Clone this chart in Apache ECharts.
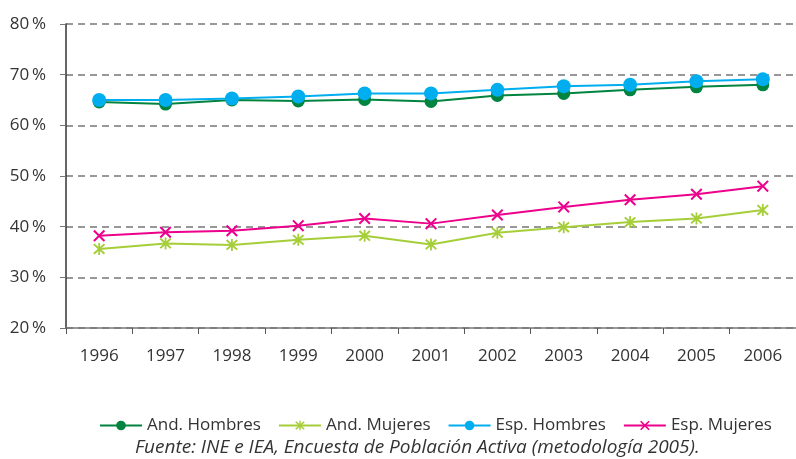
<!DOCTYPE html>
<html>
<head>
<meta charset="utf-8">
<script src="https://cdn.jsdelivr.net/npm/echarts@6/dist/echarts.min.js"></script>
<style>
  html, body { margin: 0; padding: 0; background: #fff; }
  #chart { width: 796px; height: 459px; }
</style>
</head>
<body>
<div id="chart"></div>
<script>
var years = ['1996', '1997', '1998', '1999', '2000', '2001', '2002', '2003', '2004', '2005', '2006'];
var andHombres = [64.6, 64.2, 65.0, 64.8, 65.1, 64.7, 65.9, 66.3, 67.0, 67.6, 68.0];
var andMujeres = [35.6, 36.7, 36.4, 37.4, 38.2, 36.5, 38.8, 39.9, 40.9, 41.6, 43.3];
var espHombres = [65.0, 65.0, 65.3, 65.7, 66.3, 66.3, 67.0, 67.7, 68.0, 68.7, 69.1];
var espMujeres = [38.2, 38.9, 39.2, 40.2, 41.6, 40.6, 42.3, 43.9, 45.3, 46.4, 48.0];
var yTicks = [20, 30, 40, 50, 60, 70, 80];

var fontName = '"Open Sans", "DejaVu Sans", sans-serif';
// filled shapes for the cross markers
var crossPath = 'path://M1.2,0 L5,3.8 L8.8,0 L10,1.2 L6.2,5 L10,8.8 L8.8,10 L5,6.2 L1.2,10 L0,8.8 L3.8,5 L0,1.2 Z';
var starPath = crossPath + ' M4.25,-0.5 L5.75,-0.5 L5.75,10.5 L4.25,10.5 Z';

var myChart = echarts.init(document.getElementById('chart'));

var option = {
  animation: false,
  grid: { left: 66, right: -5, top: 24, bottom: 131 },
  legend: {
    top: 412,
    left: 94,
    itemWidth: 42,
    itemHeight: 12,
    itemGap: 17,
    textStyle: { fontFamily: fontName, fontSize: 17, color: '#333' },
    data: ['And. Hombres', 'And. Mujeres', 'Esp. Hombres', 'Esp. Mujeres']
  },
  graphic: [{
    type: 'text',
    left: 135,
    top: 438,
    style: {
      text: 'Fuente: INE e IEA, Encuesta de Población Activa (metodología 2005).',
      font: 'italic 19px ' + fontName,
      fill: '#333'
    }
  }],
  xAxis: {
    type: 'category',
    data: years,
    boundaryGap: true,
    axisLine: { lineStyle: { color: '#777', width: 1.5 } },
    axisTick: { show: true, length: 6, lineStyle: { color: '#555' } },
    axisLabel: { margin: 20, fontFamily: fontName, fontSize: 17, color: '#333' },
    splitLine: { show: false }
  },
  yAxis: {
    type: 'value',
    min: yTicks[0],
    max: yTicks[yTicks.length - 1],
    interval: 10,
    axisLine: { show: true, lineStyle: { color: '#333', width: 1.5 } },
    axisTick: { show: true, length: 6, lineStyle: { color: '#777' } },
    axisLabel: {
      margin: 20,
      fontFamily: fontName,
      fontSize: 17,
      color: '#333',
      formatter: function (v) { return v + '\u2009%'; }
    },
    splitLine: { show: true, lineStyle: { color: '#777', type: [7, 5], width: 1.5 } }
  },
  series: [
    {
      name: 'And. Hombres',
      type: 'line',
      data: andHombres,
      symbol: 'circle',
      symbolSize: 13,
      color: '#00843f',
      lineStyle: { width: 2 },
      z: 2
    },
    {
      name: 'And. Mujeres',
      type: 'line',
      data: andMujeres,
      symbol: starPath,
      symbolSize: 12,
      color: '#a6ce39',
      lineStyle: { width: 2 }
    },
    {
      name: 'Esp. Hombres',
      type: 'line',
      data: espHombres,
      symbol: 'circle',
      symbolSize: 14,
      color: '#00aeef',
      lineStyle: { width: 2 },
      z: 3
    },
    {
      name: 'Esp. Mujeres',
      type: 'line',
      data: espMujeres,
      symbol: crossPath,
      symbolSize: 12,
      color: '#ec008c',
      lineStyle: { width: 2 }
    }
  ]
};

myChart.setOption(option);
</script>
</body>
</html>
